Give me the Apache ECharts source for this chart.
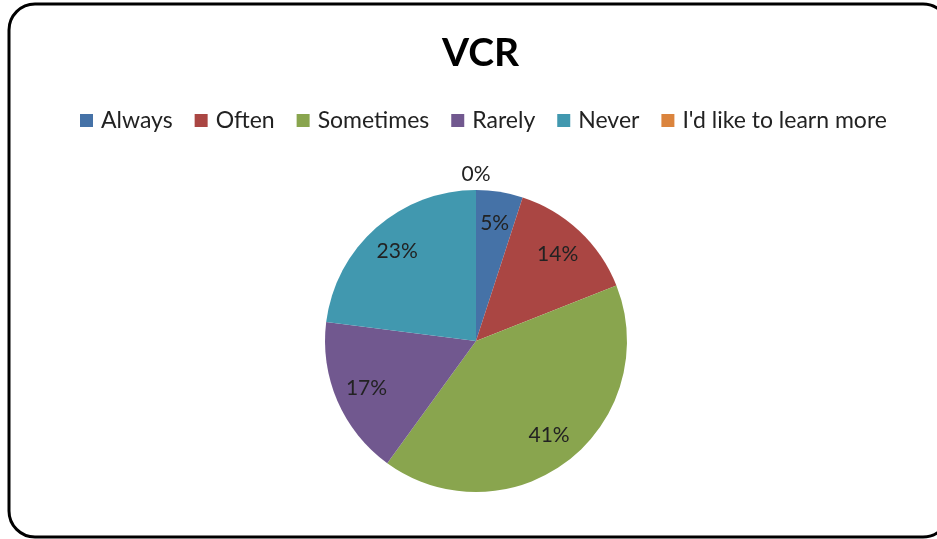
<!DOCTYPE html>
<html>
<head>
<meta charset="utf-8">
<script src="https://cdn.jsdelivr.net/npm/echarts@6/dist/echarts.min.js"></script>
<style>
  html, body { margin: 0; padding: 0; background: #fff; }
  #chart { width: 937px; height: 539px; }
</style>
</head>
<body>
<div id="chart"></div>
<script>
const categories = ["Always", "Often", "Sometimes", "Rarely", "Never", "I'd like to learn more"];
const percents = [5, 14, 41, 17, 23, 0];
const colors = ["#4572A7", "#AA4643", "#89A54E", "#71588F", "#4198AF", "#DB843D"];

const chart = echarts.init(document.getElementById("chart"));

const fontFamily = "Lato, 'Open Sans', sans-serif";
const R = 151;

const option = {
  color: colors,
  animation: false,
  title: {
    text: "VCR",
    left: 437,
    top: 29,
    textStyle: { fontSize: 39, fontWeight: "bold", color: "#000", fontFamily: fontFamily },
  },
  legend: {
    data: categories,
    top: 104,
    left: 75,
    itemWidth: 13,
    itemHeight: 13,
    itemGap: 22,
    icon: "rect",
    selectedMode: false,
    textStyle: { fontSize: 23, color: "#222", fontFamily: fontFamily, padding: [0, 0, 0, 3] },
  },
  graphic: [
    {
      type: "rect",
      shape: { x: 9, y: 4, width: 940, height: 533, r: 26 },
      style: { fill: "none", stroke: "#000", lineWidth: 3 },
      silent: true,
    },
  ],
  series: [
    {
      name: "VCR",
      type: "pie",
      center: [476, 341],
      radius: [0, R],
      startAngle: 90,
      clockwise: true,
      label: { show: false },
      labelLine: { show: false },
      itemStyle: { borderWidth: 0 },
      emphasis: { disabled: true },
      data: categories.map((c, i) => ({ name: c, value: percents[i] })),
    },
    {
      name: "labels",
      type: "pie",
      center: [476, 341],
      radius: [R * 0.54, R],
      startAngle: 90,
      clockwise: true,
      silent: true,
      minShowLabelAngle: -1,
      stillShowZeroSum: true,
      itemStyle: { color: "rgba(0,0,0,0)", borderWidth: 0 },
      label: {
        show: true,
        position: "inside",
        formatter: "{c}%",
        fontSize: 21,
        color: "#222",
        fontFamily: fontFamily,
      },
      labelLine: { show: false },
      labelLayout: function (params) {
        if (percents[params.dataIndex] === 0) {
          return { dx: params.labelRect.width / 2 + 5, dy: -8 };
        }
        return {};
      },
      emphasis: { disabled: true },
      data: categories.map((c, i) => {
        const d = { name: c, value: percents[i] };
        if (percents[i] === 0) {
          d.label = { position: "outside" };
          d.labelLine = { show: false, length: 8, length2: 0 };
        }
        return d;
      }),
    },
  ],
};

chart.setOption(option);
</script>
</body>
</html>
